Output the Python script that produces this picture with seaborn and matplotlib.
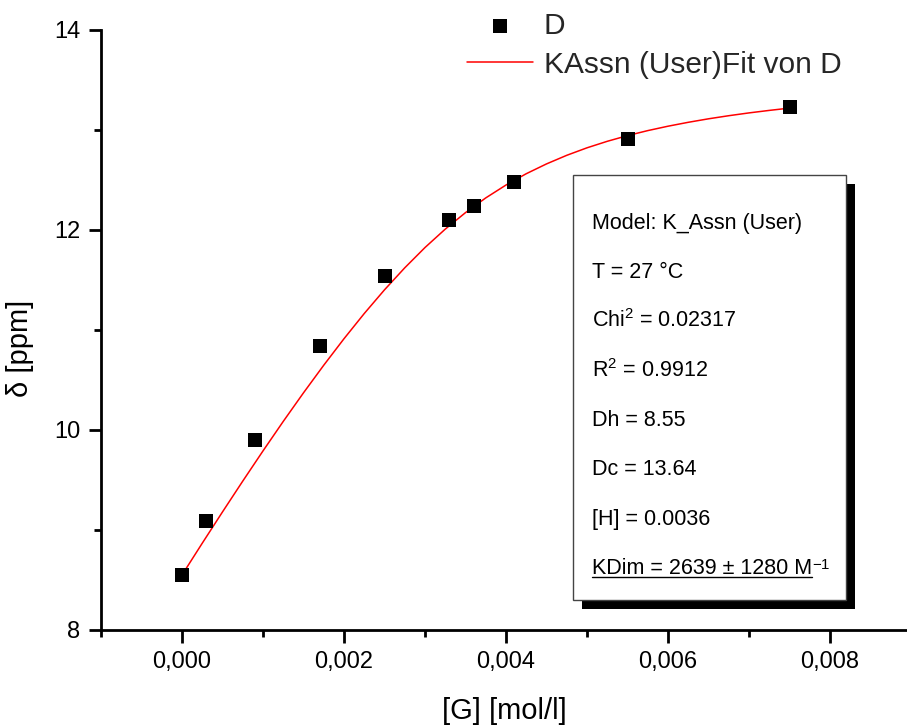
import matplotlib
matplotlib.use("Agg")
import matplotlib.pyplot as plt
import seaborn as sns
import pandas as pd
from matplotlib.patches import Rectangle
from matplotlib.lines import Line2D
from matplotlib.ticker import MultipleLocator

# Measured chemical shift vs. guest concentration
g_conc = [0.0, 0.0003, 0.0009, 0.0017, 0.0025, 0.0033, 0.0036, 0.0041, 0.0055, 0.0075]
delta_obs = [8.55, 9.09, 9.90, 10.84, 11.54, 12.10, 12.24, 12.48, 12.91, 13.23]

# Fitted K_Assn curve
fit_g = [0.0, 0.00025, 0.0005, 0.00075, 0.0010, 0.00125, 0.0015, 0.00175,
         0.0020, 0.00225, 0.0025, 0.00275, 0.0030, 0.00325, 0.0035, 0.00375,
         0.0040, 0.00425, 0.0045, 0.00475, 0.0050, 0.00525, 0.0055, 0.00575,
         0.0060, 0.00625, 0.0065, 0.00675, 0.0070, 0.00725, 0.0075]
fit_delta = [8.55, 8.868, 9.181, 9.489, 9.791, 10.086, 10.372, 10.648,
             10.913, 11.165, 11.402, 11.622, 11.825, 12.009, 12.174, 12.321,
             12.450, 12.563, 12.661, 12.747, 12.822, 12.887, 12.944, 12.994,
             13.038, 13.077, 13.112, 13.143, 13.171, 13.196, 13.219]

x_ticks = [0.000, 0.002, 0.004, 0.006, 0.008]
x_tick_labels = ["0,000", "0,002", "0,004", "0,006", "0,008"]
y_ticks = [8, 10, 12, 14]
y_tick_labels = ["8", "10", "12", "14"]

series_label = "D"
fit_label = "KAssn (User)Fit von D"

box_lines = [
    "Model: K_Assn (User)",
    "T = 27 °C",
    "Chi$^{2}$ = 0.02317",
    "R$^{2}$ = 0.9912",
    "Dh = 8.55",
    "Dc = 13.64",
    "[H] = 0.0036",
]
kdim_text = "KDim = 2639 ± 1280 M"
kdim_sup = "$^{-1}$"

sns.set_theme(style="ticks")
plt.rcParams["font.family"] = ["Liberation Sans", "DejaVu Sans"]
plt.rcParams["mathtext.fontset"] = "custom"
plt.rcParams["mathtext.rm"] = "Liberation Sans"
plt.rcParams["mathtext.it"] = "Liberation Sans:italic"
plt.rcParams["mathtext.default"] = "regular"

W, H = 907, 728
fig = plt.figure(figsize=(W / 100, H / 100), dpi=100)
fig.patch.set_facecolor("white")


def fx(x):
    return x / W


def fy(y):
    return 1 - y / H


ax = fig.add_axes([fx(101), fy(630), 806 / W, 600 / H])
ax.set_facecolor("white")

obs = pd.DataFrame({"G": g_conc, "delta": delta_obs})
fit = pd.DataFrame({"G": fit_g, "delta": fit_delta})

sns.lineplot(data=fit, x="G", y="delta", color="#ff0000", linewidth=1.1,
             label=fit_label, ax=ax, zorder=2)
sns.scatterplot(data=obs, x="G", y="delta", marker="s", s=90, color="black",
                linewidth=0, label=series_label, ax=ax, zorder=3)

ax.set_xlim(-0.001, 0.00895)
ax.set_ylim(8, 14)
ax.set_xticks(x_ticks)
ax.set_xticklabels(x_tick_labels)
ax.set_yticks(y_ticks)
ax.set_yticklabels(y_tick_labels)
ax.xaxis.set_minor_locator(MultipleLocator(0.001))
ax.yaxis.set_minor_locator(MultipleLocator(1))

for s in ["top", "right"]:
    ax.spines[s].set_visible(False)
for s in ["left", "bottom"]:
    ax.spines[s].set_linewidth(2)
    ax.spines[s].set_color("black")

ax.tick_params(which="major", direction="out", length=9, width=2,
               color="black", labelsize=17, labelcolor="black")
ax.tick_params(which="minor", direction="out", length=5, width=2, color="black")
ax.tick_params(axis="x", which="major", pad=6)
ax.tick_params(axis="y", which="major", pad=6)

ax.set_xlabel("[G] [mol/l]", fontsize=21, color="black")
ax.set_ylabel("δ [ppm]", fontsize=21, color="black")
ax.xaxis.set_label_coords(0.5, -0.112)
ax.yaxis.set_label_coords(-0.083, 0.47)

# Legend: marker entry first, then the fit line
handles, labels = ax.get_legend_handles_labels()
order = [labels.index(series_label), labels.index(fit_label)]
ax.legend([handles[i] for i in order], [labels[i] for i in order],
          loc="upper left", bbox_to_anchor=(fx(467), fy(12)),
          bbox_transform=fig.transFigure, frameon=False, fontsize=21.5,
          handlelength=2.2, handletextpad=0.37, labelspacing=0.36,
          borderpad=0, borderaxespad=0)

# Parameter box with drop shadow
bx0, by0, bx1, by1 = 573, 175, 846, 600
shadow = 9
fig.add_artist(Rectangle((fx(bx0 + shadow), fy(by1 + shadow)),
                         (bx1 - bx0) / W, (by1 - by0) / H,
                         transform=fig.transFigure, facecolor="black",
                         edgecolor="black", linewidth=0, zorder=5))
fig.add_artist(Rectangle((fx(bx0), fy(by1)), (bx1 - bx0) / W, (by1 - by0) / H,
                         transform=fig.transFigure, facecolor="white",
                         edgecolor="#444444", linewidth=1, zorder=6))

text_x = 592
baselines = [229.5, 278.5, 327.5, 376.5, 426, 475, 524.5, 574]
for line, yb in zip(box_lines, baselines):
    fig.text(fx(text_x), fy(yb), line, fontsize=15.5, color="black",
             ha="left", va="baseline", zorder=7)

kt = fig.text(fx(text_x), fy(baselines[-1]), kdim_text, fontsize=15.5,
              color="black", ha="left", va="baseline", zorder=7)
fig.canvas.draw()
bb = kt.get_window_extent(fig.canvas.get_renderer())
ul_y = fy(baselines[-1] + 2.5)
fig.add_artist(Line2D([bb.x0 / W, bb.x1 / W], [ul_y, ul_y],
                      transform=fig.transFigure, color="black",
                      linewidth=1, zorder=7))
fig.text(bb.x1 / W, fy(baselines[-1] + 2), kdim_sup, fontsize=15.5,
         color="black", ha="left", va="baseline", zorder=7)

fig.savefig("out.png", dpi=100, facecolor="white")
